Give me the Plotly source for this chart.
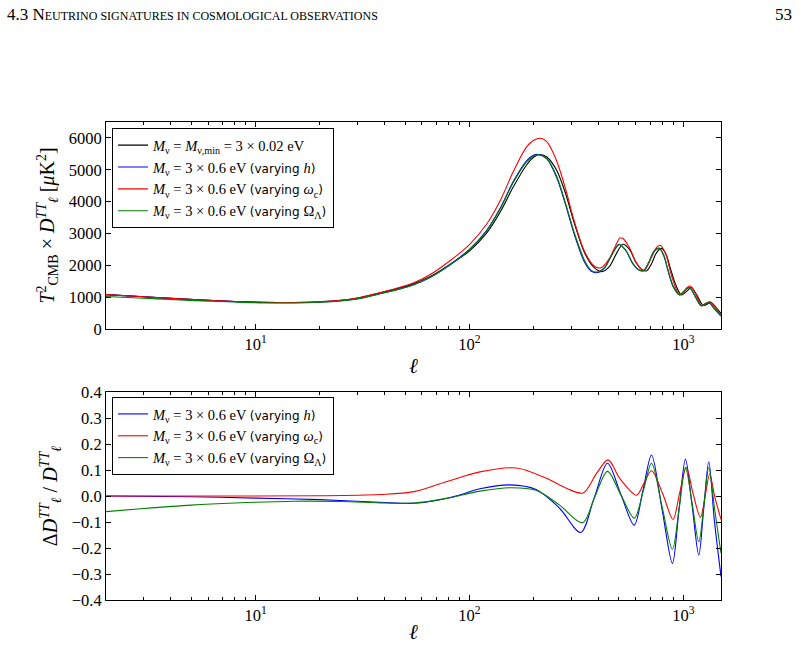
import plotly.graph_objects as go

# ---------------- data ----------------
# Top panel: T_CMB^2 x D_l^TT [muK^2]
ell_fid = [2, 3, 4, 6, 8, 11, 15, 20, 25, 30, 38, 46, 55, 66, 78, 100, 120, 140, 160, 185, 200, 215, 230,
           255, 280, 310, 345, 380, 415, 450, 485, 522, 560, 600, 640, 675, 710, 750, 792, 830,
           870, 920, 980, 1035, 1090, 1160, 1238, 1290, 1345, 1420, 1500]
D_fid = [1080, 1010, 960, 900, 865, 840, 832, 855, 900, 970, 1130, 1270, 1430, 1660, 1950, 2450, 3000,
         3700, 4450, 5150, 5400, 5480, 5400, 5000, 4300, 3300, 2400, 1950, 1800, 1950, 2350, 2660,
         2500, 2100, 1860, 1830, 2050, 2400, 2530, 2350, 1900, 1400, 1070, 1180, 1300, 1050, 740,
         780, 830, 680, 490]

ell_h = [2, 3, 4, 6, 8, 11, 15, 20, 25, 30, 38, 46, 55, 66, 78, 100, 120, 140, 160, 185, 200, 210, 230, 255,
         280, 310, 345, 370, 395, 430, 465, 500, 540, 580, 620, 650, 690, 730, 770, 810, 850, 900,
         960, 1010, 1065, 1140, 1210, 1265, 1315, 1400, 1500]
D_h = [1080, 1010, 960, 900, 860, 830, 825, 845, 885, 950, 1105, 1240, 1395, 1635, 1945, 2500, 3080,
       3820, 4620, 5280, 5460, 5480, 5340, 4780, 3950, 2950, 2100, 1820, 1770, 1930, 2350, 2660,
       2450, 2050, 1850, 1830, 2100, 2450, 2540, 2300, 1800, 1300, 1070, 1200, 1300, 1000, 730,
       790, 830, 620, 400]

ell_wc = [2, 3, 4, 6, 8, 11, 15, 20, 25, 30, 38, 46, 55, 66, 78, 100, 120, 140, 160, 185, 200, 215, 230, 255,
          280, 310, 345, 380, 400, 415, 450, 485, 505, 522, 560, 600, 640, 660, 710, 750, 780, 830,
          870, 920, 960, 1000, 1035, 1080, 1160, 1220, 1290, 1330, 1420, 1500]
D_wc = [1080, 1010, 960, 900, 865, 840, 832, 856, 902, 975, 1138, 1285, 1455, 1720, 2055, 2650, 3280,
        4060, 4930, 5720, 5930, 5990, 5880, 5300, 4450, 3360, 2440, 2000, 1920, 1930, 2200, 2650,
        2860, 2840, 2550, 2100, 1870, 1850, 2250, 2560, 2630, 2330, 1800, 1300, 1080, 1120, 1290,
        1350, 1000, 720, 820, 860, 650, 450]

ell_OL = [2, 3, 4, 6, 8, 11, 15, 20, 25, 30, 38, 46, 55, 66, 78, 100, 120, 140, 160, 185, 200, 212, 230, 255,
          280, 310, 345, 370, 397, 430, 465, 502, 540, 580, 620, 652, 690, 730, 772, 810, 850, 900,
          962, 1010, 1068, 1140, 1212, 1265, 1318, 1400, 1500]
D_OL = [1020, 965, 925, 875, 845, 820, 817, 838, 880, 945, 1100, 1235, 1392, 1630, 1930, 2480, 3060,
        3800, 4590, 5250, 5440, 5470, 5360, 4820, 4000, 3000, 2160, 1850, 1790, 1940, 2350, 2650,
        2460, 2070, 1860, 1830, 2090, 2430, 2530, 2320, 1830, 1330, 1070, 1190, 1300, 1010, 730,
        790, 830, 640, 420]

# Bottom panel: Delta D / D
ell_rh = [2, 5, 10, 20, 38, 55, 70, 90, 112, 155, 205, 264, 331, 383, 442, 510, 589, 648, 710,
          795, 889, 953, 1023, 1100, 1181, 1246, 1315, 1395, 1500]
r_h = [0.0, -0.003, -0.008, -0.014, -0.024, -0.028, -0.017, 0.004, 0.028, 0.043, 0.025, -0.047,
       -0.140, -0.007, 0.126, 0.007, -0.112, 0.023, 0.158, -0.050, -0.259, -0.058, 0.142, -0.040,
       -0.227, -0.047, 0.132, -0.090, -0.310]

ell_rwc = [2, 10, 20, 38, 55, 78, 112, 166, 229, 284, 340, 393, 445, 504, 604, 655, 710, 800, 895,
           960, 1033, 1110, 1202, 1265, 1328, 1400, 1500]
r_wc = [0.0, 0.0, 0.001, 0.006, 0.017, 0.055, 0.093, 0.108, 0.068, 0.030, 0.012, 0.087, 0.139,
        0.068, 0.003, 0.050, 0.097, 0.010, -0.090, 0.010, 0.110, 0.010, -0.082, 0.000, 0.085,
        0.000, -0.090]

ell_rOL = [2, 3, 5, 8, 15, 25, 40, 55, 78, 112, 155, 205, 264, 338, 385, 442, 510, 590, 650, 710,
           795, 889, 955, 1023, 1100, 1181, 1250, 1315, 1400, 1500]
r_OL = [-0.060, -0.048, -0.035, -0.027, -0.020, -0.021, -0.027, -0.027, -0.009, 0.019, 0.032,
        0.022, -0.035, -0.103, -0.005, 0.095, 0.005, -0.085, 0.020, 0.126, -0.040, -0.205, -0.050,
        0.110, -0.030, -0.176, -0.030, 0.110, -0.050, -0.220]

xtick_vals = [10, 100, 1000]
xtick_text = ["10<sup>1</sup>", "10<sup>2</sup>", "10<sup>3</sup>"]
xminor_vals = [3, 4, 5, 6, 7, 8, 9, 20, 30, 40, 50, 60, 70, 80, 90, 200, 300, 400, 500, 600, 700, 800, 900]
ytop_vals = [0, 1000, 2000, 3000, 4000, 5000, 6000]
ybot_vals = [-0.4, -0.3, -0.2, -0.1, 0.0, 0.1, 0.2, 0.3, 0.4]

# ---------------- styling ----------------
SERIF = "Liberation Serif"
SANS = "DejaVu Sans"
BLACK, BLUE, RED, GREEN = "#000000", "#0000ff", "#ff0000", "#008000"


def varying(sym):
    return f"<span style='font-family:{SANS};font-size:12px'>(varying </span>{sym}<span style='font-family:{SANS};font-size:12px'>)</span>"


lab_fid = "<i>M</i><sub>ν</sub> = <i>M</i><sub>ν,min</sub> = 3 × 0.02 eV"
lab_h = "<i>M</i><sub>ν</sub> = 3 × 0.6 eV " + varying("<i>h</i>")
lab_wc = "<i>M</i><sub>ν</sub> = 3 × 0.6 eV " + varying("<i>ω</i><sub>c</sub>")
lab_OL = "<i>M</i><sub>ν</sub> = 3 × 0.6 eV " + varying("Ω<sub>Λ</sub>")

fig = go.Figure()

top = [(ell_fid, D_fid, BLACK, lab_fid), (ell_h, D_h, BLUE, lab_h),
       (ell_wc, D_wc, RED, lab_wc), (ell_OL, D_OL, GREEN, lab_OL)]
for ex, ey, col, lab in top:
    fig.add_trace(go.Scatter(x=ex, y=ey, mode="lines", line=dict(color=col, width=1.1, shape="spline", smoothing=0.9),
                             name=lab, xaxis="x", yaxis="y", legend="legend"))

bot = [(ell_rh, r_h, BLUE, lab_h), (ell_rwc, r_wc, RED, lab_wc), (ell_rOL, r_OL, GREEN, lab_OL)]
for ex, ey, col, lab in bot:
    fig.add_trace(go.Scatter(x=ex, y=ey, mode="lines", line=dict(color=col, width=1.1, shape="spline", smoothing=0.9),
                             name=lab, xaxis="x2", yaxis="y2", legend="legend2"))

tickfont = dict(family=SERIF, size=16.5, color="black")
common_x = dict(type="log", range=[0.30103, 3.17609], showgrid=False, zeroline=False, automargin=False,
                showline=True, linecolor="black", linewidth=1, mirror="allticks",
                ticks="inside", ticklen=5, tickwidth=1, tickcolor="black",
                tickmode="array", tickvals=xtick_vals, ticktext=xtick_text, tickfont=tickfont,
                minor=dict(ticks="inside", ticklen=3, tickwidth=1, tickcolor="black",
                           tickmode="array", tickvals=xminor_vals, showgrid=False))
common_y = dict(showgrid=False, zeroline=False, showline=True, linecolor="black", linewidth=1,
                mirror="allticks", ticks="inside", ticklen=5, tickwidth=1, tickcolor="black",
                tickfont=tickfont, automargin=False)

fig.update_layout(
    width=806, height=648,
    margin=dict(l=106, r=85, t=122, b=48),
    paper_bgcolor="white", plot_bgcolor="white",
    xaxis=dict(common_x, domain=[0, 1], anchor="y"),
    yaxis=dict(common_y, domain=[0.567, 1.0], anchor="x", range=[0, 6500],
               tickmode="array", tickvals=ytop_vals,
               title=dict(text="<i>T</i><sup>2</sup><sub>CMB</sub> × <i>D</i><sup><i>TT</i></sup><sub><i>ℓ</i></sub> [<i>μ</i>K<sup>2</sup>]",
                          font=dict(family=SERIF, size=20, color="black"), standoff=8)),
    xaxis2=dict(common_x, domain=[0, 1], anchor="y2"),
    yaxis2=dict(common_y, domain=[0.0, 0.435], anchor="x2", range=[-0.4, 0.4],
                tickmode="array", tickvals=ybot_vals, tickformat=".1f",
                title=dict(text="Δ<i>D</i><sup><i>TT</i></sup><sub><i>ℓ</i></sub> / <i>D</i><sup><i>TT</i></sup><sub><i>ℓ</i></sub>",
                           font=dict(family=SERIF, size=20, color="black"), standoff=8)),
    legend=dict(x=0.0098, y=0.987, xanchor="left", yanchor="top", bgcolor="white",
                bordercolor="black", borderwidth=1, font=dict(family=SERIF, size=14.5, color="black"),
                tracegroupgap=0),
    legend2=dict(x=0.0098, y=0.4247, xanchor="left", yanchor="top", bgcolor="white",
                 bordercolor="black", borderwidth=1, font=dict(family=SERIF, size=14.5, color="black"),
                 tracegroupgap=0),
    showlegend=True,
)

# x-axis titles (placed as annotations for exact positioning)
for ypos in (0.4895, -0.0669):
    fig.add_annotation(text="<i>ℓ</i>", xref="paper", yref="paper", x=0.5, y=ypos,
                       xanchor="center", yanchor="middle", showarrow=False,
                       font=dict(family=SERIF, size=21, color="black"))

sc = "font-size:12px"
header = ("4.3 N<span style='" + sc + "'>EUTRINO SIGNATURES IN COSMOLOGICAL OBSERVATIONS</span>")
fig.add_annotation(text=header, xref="paper", yref="paper", x=-0.164, y=1.224,
                   xanchor="left", yanchor="middle", showarrow=False,
                   font=dict(family=SERIF, size=17, color="black"))
fig.add_annotation(text="53", xref="paper", yref="paper", x=1.118, y=1.224,
                   xanchor="right", yanchor="middle", showarrow=False,
                   font=dict(family=SERIF, size=17, color="black"))

fig.write_html("out.html")
